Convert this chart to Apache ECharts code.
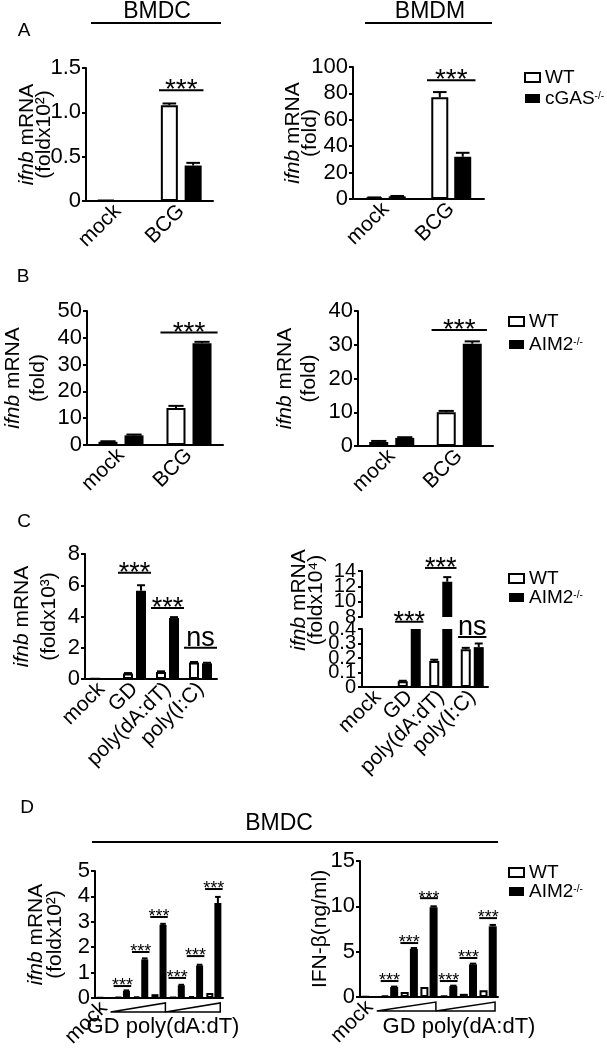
<!DOCTYPE html>
<html>
<head>
<meta charset="utf-8">
<title>ifnb mRNA - WT vs cGAS / AIM2</title>
<style>
    * { margin: 0; padding: 0; }
    body { background: #fff; }
    #main { width: 607px; height: 1050px; }
</style>
<script src="https://cdn.jsdelivr.net/npm/echarts@6/dist/echarts.min.js"></script>
</head>
<body>
<div id="main"></div>
<script>
// ---- data ----
// A: BCG infection, WT vs cGAS-/-
var catsBCG = ['mock', 'BCG'];
var aDcWT = [0.01, 1.08],  aDcWTErr = [0, 0.02];
var aDcKO = [0.01, 0.40],  aDcKOErr = [0, 0.03];
var aDmWT = [1.0, 77],     aDmWTErr = [0.2, 4];
var aDmKO = [2.0, 32],     aDmKOErr = [0.3, 3];
var aDcSig = [[1, 1.25]],  aDmSig = [[1, 90]];

// B: BCG infection, WT vs AIM2-/-
var bDcWT = [1.2, 13.8],   bDcWTErr = [0.2, 0.8];
var bDcKO = [3.6, 38],     bDcKOErr = [0.3, 0.5];
var bDmWT = [1.2, 10],     bDmWTErr = [0.3, 0.4];
var bDmKO = [2.4, 30.3],   bDmKOErr = [0.2, 0.7];
var bDcSig = [[1, 42]],    bDmSig = [[1, 34.4]];

// C: DNA / RNA transfection
var catsC = ['mock', 'GD', 'poly(dA:dT)', 'poly(I:C)'];
var cLWT = [0.02, 0.35, 0.45, 1.05],   cLWTErr = [0, 0.03, 0.04, 0.04];
var cLKO = [0.02, 5.65, 3.9, 1.0],     cLKOErr = [0, 0.35, 0.06, 0.04];
var cLSig = [[1, 6.8], [2, 4.55], [3, 2.0]];
var cLSigText = ['***', '***', 'ns'];
var cRWT = [0.001, 0.04, 0.18, 0.26],  cRWTErr = [0, 0.003, 0.008, 0.01];
var cRKO = [0.001, 0.57, 12.6, 0.275], cRKOErr = [0, 0.02, 0.6, 0.025];
var cRSigLow = [[1, 0.45], [3, 0.345]], cRSigLowText = ['***', 'ns'];
var cRSigHigh = [[2, 14.4]],            cRSigHighText = ['***'];
// broken-axis tick labels (crowded, drawn as text on the axis scale)
var cRTicksLow = ['0', '0.1', '0.2', '0.3', '0.4'];
var cRTicksHigh = ['8', '10', '12', '14'];

// D: dose series in BMDC
var catsD = ['mock', 'GD 1', 'GD 2', 'GD 3', 'poly(dA:dT) 1', 'poly(dA:dT) 2', 'poly(dA:dT) 3'];
var dLWT = [0.01, 0.03, 0.06, 0.15, 0.03, 0.07, 0.2];
var dLKO = [0.01, 0.28, 1.52, 2.88, 0.5, 1.28, 3.74];
var dLKOErr = [0, 0.02, 0.04, 0.04, 0.02, 0.03, 0.24];
var dLSig = [[1, 0.47], [2, 1.81], [3, 3.19], [4, 0.79], [5, 1.65], [6, 4.29]];
var dRWT = [0.05, 0.15, 0.55, 1.1, 0.15, 0.35, 0.75];
var dRKO = [0.05, 1.1, 5.3, 9.9, 1.2, 3.6, 7.8];
var dRKOErr = [0, 0.05, 0.1, 0.1, 0.05, 0.08, 0.15];
var dRSig = [[1, 1.76], [2, 5.95], [3, 10.9], [4, 1.76], [5, 4.3], [6, 8.7]];
var dSigText = ['***', '***', '***', '***', '***', '***'];
var doseRanges = [[1, 3], [4, 6]];

var FONT = '"Liberation Sans", Arial, Helvetica, sans-serif';
var TICK_FS = 22;
var grids = [], xAxes = [], yAxes = [], series = [];

function addGrid(l, t, w, h) {
    grids.push({ left: l, top: t, width: w, height: h, containLabel: false, outerBoundsMode: 'none' });
    return grids.length - 1;
}

function addX(gi, cats, show) {
    xAxes.push({
        type: 'category', gridIndex: gi, data: cats, show: show !== false,
        axisLine: { lineStyle: { color: '#000', width: 2 } },
        axisTick: { alignWithLabel: true, length: 5, lineStyle: { color: '#000', width: 2 } },
        axisLabel: { rotate: 45, interval: 0, color: '#000', fontSize: 21, fontFamily: FONT, margin: 7, hideOverlap: false },
        splitLine: { show: false }
    });
    return xAxes.length - 1;
}

function addY(gi, min, max, step, fmt, fs) {
    yAxes.push({
        type: 'value', gridIndex: gi, min: min, max: max, interval: step,
        axisLine: { show: true, lineStyle: { color: '#000', width: 2 } },
        axisTick: { show: true, length: 4, lineStyle: { color: '#000', width: 2 } },
        axisLabel: {
            color: '#000', fontSize: fs || TICK_FS, fontFamily: FONT, margin: 5, formatter: fmt,
            showMinLabel: true, showMaxLabel: true
        },
        splitLine: { show: false }
    });
    return yAxes.length - 1;
}

function yName(yi, text, gap, lh) {
    var ax = yAxes[yi];
    ax.name = text;
    ax.nameLocation = 'middle';
    ax.nameRotate = 90;
    ax.nameGap = gap;
    ax.nameMoveOverlap = false;
    ax.nameTextStyle = {
        color: '#000', fontSize: 21, fontFamily: FONT, lineHeight: lh,
        rich: { i: { fontStyle: 'italic', fontSize: 21, fontFamily: FONT, color: '#000', lineHeight: lh } }
    };
}

function addBars(xi, yi, name, vals, filled, bw, gap) {
    series.push({
        type: 'bar', name: name, xAxisIndex: xi, yAxisIndex: yi, data: vals,
        barWidth: bw, barGap: gap, clip: true, animation: false,
        itemStyle: filled ? { color: '#000', borderColor: '#000', borderWidth: 0 }
                          : { color: '#fff', borderColor: '#000', borderWidth: 2 },
        emphasis: { disabled: true }
    });
}

function addErr(xi, yi, vals, errs, offset, cap, keep) {
    var data = [];
    vals.forEach(function (v, i) {
        if (errs[i] > 0 && (!keep || keep(v, errs[i]))) data.push([i, v, errs[i]]);
    });
    series.push({
        type: 'custom', xAxisIndex: xi, yAxisIndex: yi, data: data, silent: true, z: 3,
        renderItem: function (params, api) {
            var b = api.coord([api.value(0), api.value(1)]);
            var t = api.coord([api.value(0), api.value(1) + api.value(2)]);
            var x = b[0] + offset;
            return {
                type: 'group', children: [
                    { type: 'line', shape: { x1: x, y1: b[1], x2: x, y2: t[1] }, style: { stroke: '#000', lineWidth: 2 } },
                    { type: 'line', shape: { x1: x - cap / 2, y1: t[1], x2: x + cap / 2, y2: t[1] }, style: { stroke: '#000', lineWidth: 2 } }
                ]
            };
        }
    });
}

function addSig(xi, yi, pts, labels, frac, fs) {
    series.push({
        type: 'custom', xAxisIndex: xi, yAxisIndex: yi, data: pts, silent: true, z: 4, clip: false,
        renderItem: function (params, api) {
            var p = api.coord([api.value(0), api.value(1)]);
            var half = api.size([1, 0])[0] * frac;
            var lab = labels[params.dataIndex];
            var ty = lab === 'ns' ? p[1] - 9 : p[1] + fs * 0.02;
            return {
                type: 'group', children: [
                    { type: 'line', shape: { x1: p[0] - half, y1: p[1], x2: p[0] + half, y2: p[1] }, style: { stroke: '#000', lineWidth: 2 } },
                    { type: 'text', x: p[0], y: ty, style: { text: lab, fontSize: fs, fontFamily: FONT, fill: '#000', align: 'center', verticalAlign: 'middle' } }
                ]
            };
        }
    });
}

// crowded tick labels of the broken axis, placed through the y scale
function addTickText(xi, yi, labels, fs) {
    series.push({
        type: 'custom', xAxisIndex: xi, yAxisIndex: yi, silent: true, clip: false,
        data: labels.map(function (s) { return [0, parseFloat(s)]; }),
        renderItem: function (params, api) {
            var band = api.size([1, 0])[0];
            var p = api.coord([0, api.value(1)]);
            return {
                type: 'text', x: p[0] - band / 2 - 6, y: p[1],
                style: { text: labels[params.dataIndex], fontSize: fs, fontFamily: FONT, fill: '#000', align: 'right', verticalAlign: 'middle' }
            };
        }
    });
}

function addWedges(xi, yi, ranges, dTop, dBot) {
    series.push({
        type: 'custom', xAxisIndex: xi, yAxisIndex: yi, data: ranges, silent: true, clip: false,
        renderItem: function (params, api) {
            var band = api.size([1, 0])[0];
            var a = api.coord([api.value(0), 0]);
            var b = api.coord([api.value(1), 0]);
            var x0 = a[0] - band * 0.65, x1 = b[0] + band * 0.35;
            return {
                type: 'polygon',
                shape: { points: [[x0, a[1] + dBot], [x1, a[1] + dTop], [x1, a[1] + dBot]] },
                style: { fill: '#fff', stroke: '#000', lineWidth: 1.5 }
            };
        }
    });
}

function pairPanel(box, cats, yr, fmt, wt, wtErr, ko, koErr, koName, bw, gapPct, sig, sigText, frac, sfs) {
    var gi = addGrid(box[0], box[1], box[2], box[3]);
    var xi = addX(gi, cats);
    var yi = addY(gi, yr[0], yr[1], yr[2], fmt);
    var off = bw * (1 + gapPct / 100) / 2;
    addBars(xi, yi, 'WT', wt, false, bw, gapPct + '%');
    addBars(xi, yi, koName, ko, true, bw, gapPct + '%');
    addErr(xi, yi, wt, wtErr, -off, bw * 0.8);
    addErr(xi, yi, ko, koErr, off, bw * 0.8);
    addSig(xi, yi, sig, sigText, frac, sfs);
    return { x: xi, y: yi };
}

var fmt1 = function (v) { return v === 0 ? '0' : v.toFixed(1); };

// ---- panel A ----
var pa1 = pairPanel([86, 68, 127, 133], catsBCG, [0, 1.5, 0.5], fmt1, aDcWT, aDcWTErr, aDcKO, aDcKOErr, 'cGAS-/-', 17, 40, aDcSig, ['***'], 0.35, 28);
yName(pa1.y, '{i|ifnb} mRNA\n(foldx10²)', 33, 17);
var pa2 = pairPanel([353, 67, 131, 132], catsBCG, [0, 100, 20], null, aDmWT, aDmWTErr, aDmKO, aDmKOErr, 'cGAS-/-', 17, 35, aDmSig, ['***'], 0.37, 28);
yName(pa2.y, '{i|ifnb} mRNA\n(fold)', 34, 17);

// ---- panel B ----
var pb1 = pairPanel([87, 311, 136, 134], catsBCG, [0, 50, 10], null, bDcWT, bDcWTErr, bDcKO, bDcKOErr, 'AIM2-/-', 19, 37, bDcSig, ['***'], 0.42, 28);
yName(pb1.y, '{i|ifnb} mRNA\n(fold)', 36, 25);
var pb2 = pairPanel([358, 311, 135, 135], catsBCG, [0, 40, 10], null, bDmWT, bDmWTErr, bDmKO, bDmKOErr, 'AIM2-/-', 19, 37, bDmSig, ['***'], 0.41, 28);
yName(pb2.y, '{i|ifnb} mRNA\n(fold)', 37, 24);

// ---- panel C (left) ----
var pc1 = pairPanel([85, 554, 132, 125], catsC, [0, 8, 2], null, cLWT, cLWTErr, cLKO, cLKOErr, 'AIM2-/-', 10, 30, cLSig, cLSigText, 0.5, 27);
yName(pc1.y, '{i|ifnb} mRNA\n(foldx10³)', 22, 27);

// ---- panel C (right, broken axis) ----
var gHi = addGrid(362, 571, 126, 46);
var xHi = addX(gHi, catsC, false);
var yHi = addY(gHi, 8, 14, 2, null, 20);
var gLo = addGrid(362, 629, 126, 58);
var xLo = addX(gLo, catsC);
var yLo = addY(gLo, 0, 0.4, 0.1, null, 20);
yAxes[yHi].axisLabel.show = false;
yAxes[yLo].axisLabel.show = false;
addTickText(xHi, yHi, cRTicksHigh, 20);
addTickText(xLo, yLo, cRTicksLow, 20);
var hiOnly = function (arr) { return arr.map(function (v) { return v >= 8 ? v : '-'; }); };
var cOff = 10 * 1.3 / 2;
addBars(xHi, yHi, 'WT', hiOnly(cRWT), false, 10, '30%');
addBars(xHi, yHi, 'AIM2-/-', hiOnly(cRKO), true, 10, '30%');
addBars(xLo, yLo, 'WT', cRWT, false, 10, '30%');
addBars(xLo, yLo, 'AIM2-/-', cRKO, true, 10, '30%');
addErr(xHi, yHi, cRKO, cRKOErr, cOff, 8, function (v) { return v >= 8; });
addErr(xLo, yLo, cRWT, cRWTErr, -cOff, 8, function (v, e) { return v + e <= 0.4; });
addErr(xLo, yLo, cRKO, cRKOErr, cOff, 8, function (v, e) { return v + e <= 0.4; });
addSig(xHi, yHi, cRSigHigh, cRSigHighText, 0.5, 27);
addSig(xLo, yLo, cRSigLow, cRSigLowText, 0.45, 27);

// ---- panel D ----
var dFmt = function (v) { return v === 'mock' ? v : ''; };
var pd1 = pairPanel([95, 871, 128, 127], catsD, [0, 5, 1], null, dLWT, dLWT.map(function () { return 0; }), dLKO, dLKOErr, 'AIM2-/-', 7, 15, dLSig, dSigText, 0.48, 18);
yName(pd1.y, '{i|ifnb} mRNA\n(foldx10²)', 30, 19);
var pd2 = pairPanel([360, 861, 138, 136], catsD, [0, 15, 5], null, dRWT, dRWT.map(function () { return 0; }), dRKO, dRKOErr, 'AIM2-/-', 8, 15, dRSig, dSigText, 0.45, 18);
yName(pd2.y, 'IFN-β(ng/ml)', 30, 20);
[pd1, pd2].forEach(function (p) {
    xAxes[p.x].axisLabel.formatter = dFmt;
    addWedges(p.x, p.y, doseRanges, 5, 14);
});

// ---- legends ----
function legendAt(left, top, ko, gap) {
    return {
        orient: 'vertical', left: left, top: top, icon: 'rect', itemWidth: 15, itemHeight: 9,
        itemGap: gap, selectedMode: false,
        data: [
            { name: 'WT', itemStyle: { color: '#fff', borderColor: '#000', borderWidth: 2 } },
            { name: ko, itemStyle: { color: '#000', borderWidth: 0 } }
        ],
        textStyle: {
            color: '#000', fontSize: 19, fontFamily: FONT, lineHeight: 15,
            rich: {
                n: { fontSize: 19, fontFamily: FONT, color: '#000', lineHeight: 15 },
                s: { fontSize: 10, fontFamily: FONT, color: '#000', verticalAlign: 'top', lineHeight: 10 }
            }
        },
        formatter: function (n) {
            var m = n.split('-/-');
            return m.length > 1 ? '{n|' + m[0] + '}{s|-/-}' : '{n|' + n + '}';
        }
    };
}

// ---- titles and panel letters ----
function txt(x, y, s, fs) {
    return { type: 'text', x: x, y: y, style: { text: s, fontSize: fs, fontFamily: FONT, fill: '#000', align: 'center', verticalAlign: 'middle' } };
}
function hline(x1, x2, y) {
    return { type: 'line', shape: { x1: x1, y1: y, x2: x2, y2: y }, style: { stroke: '#000', lineWidth: 2 } };
}
var graphics = [
    txt(157, 12, 'BMDC', 23), hline(91, 221, 23),
    txt(430, 12, 'BMDM', 23), hline(365, 492, 23),
    txt(279, 824, 'BMDC', 23), hline(92, 498, 842),
    txt(24, 31, 'A', 19), txt(23, 277, 'B', 19), txt(24, 522, 'C', 19), txt(27, 808, 'D', 19),
    txt(163, 1027, 'GD poly(dA:dT)', 22), txt(459, 1027, 'GD poly(dA:dT)', 22),
    {
        type: 'text', x: 308, y: 600, rotation: Math.PI / 2,
        style: {
            text: '{i|ifnb} mRNA\n(foldx10⁴)', fontSize: 21, fontFamily: FONT, fill: '#000', lineHeight: 17,
            align: 'center', verticalAlign: 'middle',
            rich: { i: { fontStyle: 'italic', fontSize: 21, fontFamily: FONT, fill: '#000', lineHeight: 17 } }
        }
    }
];

var chart = echarts.init(document.getElementById('main'), null, { renderer: 'canvas' });
chart.setOption({
    animation: false,
    backgroundColor: '#fff',
    textStyle: { fontFamily: FONT },
    grid: grids,
    xAxis: xAxes,
    yAxis: yAxes,
    legend: [
        legendAt(519, 63, 'cGAS-/-', 2),
        legendAt(503, 307, 'AIM2-/-', 4),
        legendAt(503, 564, 'AIM2-/-', 0),
        legendAt(503, 858, 'AIM2-/-', 0)
    ],
    graphic: graphics,
    series: series
});
</script>
</body>
</html>
